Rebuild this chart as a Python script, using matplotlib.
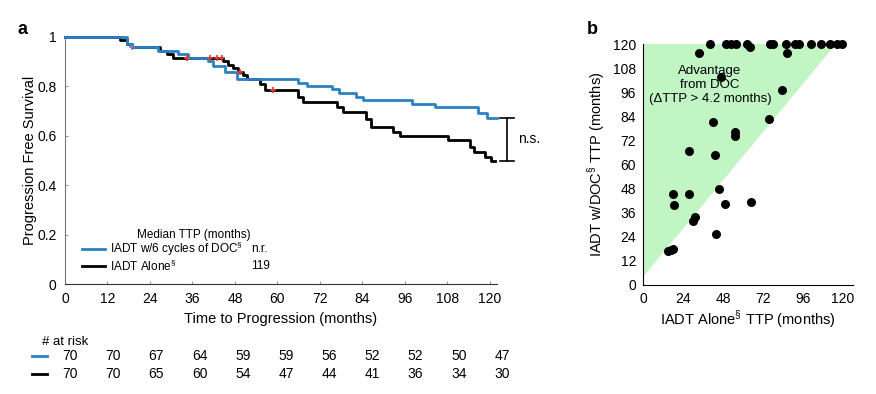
import matplotlib
matplotlib.use("Agg")
import matplotlib.pyplot as plt

plt.rcParams["font.family"] = ["Liberation Sans", "DejaVu Sans"]
plt.rcParams["mathtext.fontset"] = "custom"
plt.rcParams["mathtext.rm"] = "Liberation Sans"

# --- panel a: Kaplan-Meier progression free survival ---
doc_t = [0, 17.4, 18.8, 26.3, 32.0, 34.8, 40.5, 41.9, 45.2, 48.5, 65.9, 68.3,
         75.5, 77.4, 82.2, 84.2, 97.9, 104.5, 116.7, 119.1, 122.0]
doc_s = [1.0, 0.971, 0.957, 0.943, 0.929, 0.914, 0.900, 0.879, 0.857, 0.829, 0.814, 0.800,
         0.786, 0.771, 0.757, 0.743, 0.729, 0.714, 0.690, 0.672, 0.672]
alone_t = [0, 15.5, 17.5, 18.8, 26.8, 28.7, 30.6, 44.7, 46.1, 47.5, 48.9, 50.3, 51.3,
           55.1, 56.5, 65.9, 67.3, 76.7, 78.5, 85.0, 86.5, 92.5, 94.6, 108.2, 114.3,
           115.5, 118.6, 120.3, 121.5]
alone_s = [1.0, 0.986, 0.971, 0.957, 0.943, 0.929, 0.914, 0.900, 0.886, 0.871, 0.857, 0.843, 0.829,
           0.810, 0.784, 0.757, 0.737, 0.716, 0.696, 0.666, 0.636, 0.616, 0.598, 0.580, 0.555,
           0.535, 0.514, 0.497, 0.497]
cens_t = [34.4, 40.9, 42.8, 44.2, 49.4, 58.8]
cens_s = [0.914, 0.914, 0.914, 0.914, 0.857, 0.784]

risk_times = [0, 12, 24, 36, 48, 60, 72, 84, 96, 108, 120]
risk_doc = [70, 70, 67, 64, 59, 59, 56, 52, 52, 50, 47]
risk_alone = [70, 70, 65, 60, 54, 47, 44, 41, 36, 34, 30]

# --- panel b: paired TTP scatter ---
alone_ttp = [40.2, 49.8, 52.8, 55.8, 62.2, 64.2, 76.2, 78.0, 85.8, 91.2, 93.6, 100.6, 106.6,
             112.2, 116.6, 119.2, 33.4, 86.2, 46.8, 83.6, 75.6, 41.8, 55.2, 55.2, 27.8, 43.4,
             17.8, 27.4, 45.6, 18.4, 49.0, 65.0, 29.8, 31.2, 43.8, 15.2, 16.6, 17.8]
doc_ttp = [120, 120, 120, 120, 120, 118.7, 120, 120, 120, 120, 120, 120, 120,
           120, 120, 120, 115.7, 115.7, 103.4, 97.0, 82.7, 81.0, 76.3, 74.4, 66.9, 64.9,
           45.2, 45.2, 48.0, 39.7, 40.5, 41.5, 32.0, 33.7, 25.4, 17.1, 17.4, 17.9]
dttp_threshold = 4.2

BLUE = "#2a82c4"
W, H = 876, 394

fig = plt.figure(figsize=(W / 100, H / 100), dpi=100)


def fig_box(x0, y0, x1, y1):
    # pixel box (top-left origin) -> figure fraction rect
    return [x0 / W, 1 - y1 / H, (x1 - x0) / W, (y1 - y0) / H]


ax = fig.add_axes(fig_box(65, 36.5, 497, 284))
ax.step(doc_t, doc_s, where="post", color=BLUE, lw=2, clip_on=False, zorder=3)
ax.step(alone_t, alone_s, where="post", color="black", lw=2, clip_on=False, zorder=2)
ax.plot(cens_t, cens_s, "+", color="#e8392a", ms=5, mew=1.2, zorder=4)
ax.plot([18.8], [0.957], "+", color="#7a7aa8", ms=5, mew=1.2, zorder=4)
ax.set_xlim(0, 122)
ax.set_ylim(0, 1.0)
ax.set_xticks(risk_times)
ax.set_yticks([0, 0.2, 0.4, 0.6, 0.8, 1.0])
ax.set_yticklabels(["0", "0.2", "0.4", "0.6", "0.8", "1"])
for s in ["top", "right"]:
    ax.spines[s].set_visible(False)
ax.spines["left"].set_color("#777777")
ax.spines["bottom"].set_color("#333333")
ax.tick_params(direction="in", length=2, labelsize=10, color="#999999", pad=6)
ax.set_xlabel("Time to Progression (months)", fontsize=10.5, labelpad=4)
ax.set_ylabel("Progression Free Survival", fontsize=10.5, labelpad=0)

# n.s. bracket between curve ends
y_top, y_bot = doc_s[-1], alone_s[-1]
ax.plot([124.8, 124.8], [y_bot, y_top], color="black", lw=1.2, clip_on=False)
for yy in (y_bot, y_top):
    ax.plot([122.8, 126.8], [yy, yy], color="black", lw=1.2, clip_on=False)
ax.text(128.0, (y_top + y_bot) / 2, "n.s.", fontsize=10, va="center", ha="left")

# legend drawn by hand (two columns)
ax.text(0.298, 0.198, "Median TTP (months)", transform=ax.transAxes, fontsize=8.5,
        ha="center", va="center")
ax.plot([0.039, 0.093], [0.141, 0.141], color=BLUE, lw=2, transform=ax.transAxes)
ax.plot([0.039, 0.093], [0.073, 0.073], color="black", lw=2, transform=ax.transAxes)
ax.text(0.104, 0.141, r"IADT w/6 cycles of DOC$^{\S}$", transform=ax.transAxes,
        fontsize=8.5, va="center")
ax.text(0.104, 0.073, r"IADT Alone$^{\S}$", transform=ax.transAxes, fontsize=8.5,
        va="center")
ax.text(0.43, 0.141, "n.r.", transform=ax.transAxes, fontsize=8.5, va="center")
ax.text(0.43, 0.073, "119", transform=ax.transAxes, fontsize=8.5, va="center")

# number at risk table
fig.text(42 / W, 1 - 342 / H, "# at risk", fontsize=9.5, va="center")
for yp, col, vals in [(356, BLUE, risk_doc), (374, "black", risk_alone)]:
    fig.add_artist(plt.Line2D([32 / W, 47 / W], [1 - yp / H, 1 - yp / H], color=col, lw=2))
    for t, v in zip(risk_times, vals):
        fig.text((70 + t * 3.6) / W, 1 - yp / H, str(v), fontsize=10, ha="center",
                 va="center")

fig.text(22 / W, 1 - 30 / H, "a", fontsize=13, fontweight="bold", ha="center",
         va="center")
fig.text(592 / W, 1 - 30 / H, "b", fontsize=13, fontweight="bold", ha="center",
         va="center")

# --- panel b ---
bx = fig.add_axes(fig_box(643, 44, 853, 285))
bx.fill([0, 0, 120 - dttp_threshold], [dttp_threshold, 120, 120], color="#c2f5c4", lw=0,
        zorder=0)
bx.scatter(alone_ttp, doc_ttp, s=30, color="black", zorder=3, clip_on=False)
bx.set_xlim(0, 126)
bx.set_ylim(0, 120)
bx.set_xticks([0, 24, 48, 72, 96, 120])
bx.set_yticks(list(range(0, 121, 12)))
for s in ["top", "right"]:
    bx.spines[s].set_visible(False)
bx.tick_params(length=0, labelsize=10, pad=5)
bx.text(40.2, 99.6, "Advantage\nfrom DOC\n(\u0394TTP > 4.2 months)", fontsize=9.5,
        ha="center", va="center", linespacing=1.2)
bx.set_xlabel(r"IADT Alone$^{\S}$ TTP (months)", fontsize=10.5, labelpad=2)
bx.set_ylabel(r"IADT w/DOC$^{\S}$ TTP (months)", fontsize=10.5, labelpad=4)

fig.savefig("out.png", dpi=100)
